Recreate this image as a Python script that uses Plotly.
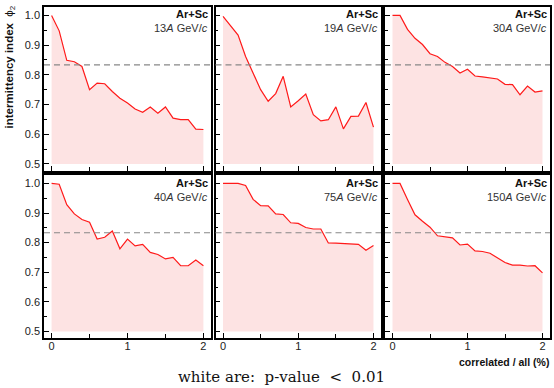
import plotly.graph_objects as go

# ---------------- data ----------------
frac = [0.0, 0.1, 0.2, 0.3, 0.4, 0.5, 0.6, 0.7, 0.8, 0.9, 1.0,
        1.1, 1.2, 1.3, 1.4, 1.5, 1.6, 1.7, 1.8, 1.9, 2.0]

phi_13 = [1.000, 0.948, 0.849, 0.844, 0.828, 0.750, 0.772, 0.770, 0.744, 0.721, 0.705,
          0.685, 0.674, 0.692, 0.671, 0.692, 0.654, 0.649, 0.649, 0.617, 0.616]
phi_19 = [0.997, 0.965, 0.934, 0.862, 0.808, 0.750, 0.711, 0.737, 0.795, 0.692, 0.713,
          0.735, 0.666, 0.645, 0.649, 0.692, 0.618, 0.660, 0.661, 0.707, 0.624]
phi_30 = [1.000, 1.000, 0.953, 0.923, 0.902, 0.871, 0.862, 0.842, 0.828, 0.806, 0.819,
          0.796, 0.793, 0.790, 0.786, 0.768, 0.767, 0.733, 0.762, 0.742, 0.746]
phi_40 = [1.000, 0.997, 0.928, 0.897, 0.878, 0.869, 0.812, 0.818, 0.839, 0.779, 0.812,
          0.789, 0.794, 0.767, 0.760, 0.745, 0.750, 0.722, 0.722, 0.741, 0.722]
phi_75 = [1.000, 1.000, 1.000, 0.993, 0.946, 0.925, 0.924, 0.897, 0.895, 0.867, 0.865,
          0.851, 0.846, 0.846, 0.799, 0.798, 0.797, 0.795, 0.794, 0.774, 0.790]
phi_150 = [1.000, 1.000, 0.946, 0.894, 0.872, 0.852, 0.823, 0.819, 0.816, 0.792, 0.795,
           0.772, 0.770, 0.764, 0.747, 0.733, 0.724, 0.724, 0.721, 0.722, 0.698]

energies = ["13", "19", "30", "40", "75", "150"]
series = [phi_13, phi_19, phi_30, phi_40, phi_75, phi_150]
system = "Ar+Sc"
threshold = 0.8333
fill_base = 0.5

# ---------------- layout geometry ----------------
W, H = 554, 388
col_px = [(44, 211), (215.5, 381), (385, 550)]
row_px = [(6.5, 170.5), (174.5, 338)]

FONT = "Liberation Sans, Arial, sans-serif"
RED = "#ff1a1a"
PINK = "rgb(253,227,227)"

fig = go.Figure()
layout = dict(
    width=W, height=H, margin=dict(l=0, r=0, t=0, b=0),
    paper_bgcolor="white", plot_bgcolor="white", showlegend=False,
    font=dict(family=FONT, size=11, color="#222"),
)
annotations = []
shapes = []

for i, (en, ys) in enumerate(zip(energies, series)):
    r, c = divmod(i, 3)
    n = i + 1
    xa = "x" if n == 1 else f"x{n}"
    ya = "y" if n == 1 else f"y{n}"
    xkey = "xaxis" if n == 1 else f"xaxis{n}"
    ykey = "yaxis" if n == 1 else f"yaxis{n}"
    x0, x1 = col_px[c]
    y0, y1 = row_px[r]
    layout[xkey] = dict(
        domain=[x0 / W, x1 / W], anchor=ya, range=[-0.1, 2.1],
        showline=True, mirror=True, linecolor="black", linewidth=1.5,
        ticks="inside", ticklen=5, tickwidth=1, tickcolor="black",
        tickmode="array", tickvals=[0, 1, 2], ticktext=["0", "1", "2"],
        minor=dict(ticks="inside", ticklen=4, tickvals=[0.5, 1.5], tickcolor="black"),
        showgrid=False, zeroline=False,
        showticklabels=(r == 1), ticklabelstandoff=-3,
        tickfont=dict(family=FONT, size=11, color="#222"),
    )
    layout[ykey] = dict(
        domain=[1 - y1 / H, 1 - y0 / H], anchor=xa, range=[0.478, 1.03],
        showline=True, mirror=True, linecolor="black", linewidth=1.5,
        ticks="inside", ticklen=5, tickwidth=1, tickcolor="black",
        dtick=0.1, tick0=0.5, tickformat=".1f",
        minor=dict(ticks="inside", ticklen=3, dtick=0.05, tickcolor="black"),
        showgrid=False, zeroline=False,
        showticklabels=(c == 0),
        tickfont=dict(family=FONT, size=11, color="#222"),
    )
    # baseline for fill
    fig.add_trace(go.Scatter(x=frac, y=[fill_base] * len(frac), mode="lines",
                             line=dict(width=0, color=PINK), xaxis=xa, yaxis=ya,
                             hoverinfo="skip"))
    fig.add_trace(go.Scatter(x=frac, y=ys, mode="lines", fill="tonexty",
                             fillcolor=PINK, line=dict(color=RED, width=1.2),
                             xaxis=xa, yaxis=ya))
    shapes.append(dict(type="line", xref=f"{xa} domain", yref=ya,
                       x0=0, x1=1, y0=threshold, y1=threshold,
                       line=dict(color="#888888", width=1.2, dash="6px,4px"),
                       layer="above"))
    top_px = y0
    annotations.append(dict(
        text=f"<b>{system}</b>", xref="paper", yref="paper",
        x=(x1 - 1.5) / W, y=1 - (top_px + 8) / H, xanchor="right", yanchor="middle",
        showarrow=False, font=dict(family=FONT, size=11, color="#111")))
    annotations.append(dict(
        text=f"{en}<i>A</i> GeV/<i>c</i>", xref="paper", yref="paper",
        x=(x1 - 1.5) / W, y=1 - (top_px + 22) / H, xanchor="right", yanchor="middle",
        showarrow=False, font=dict(family=FONT, size=11, color="#333")))

annotations.append(dict(
    text="<b>intermittency index</b>  ϕ<sub>2</sub>", xref="paper", yref="paper",
    x=10 / W, y=1 - 4 / H, xanchor="center", yanchor="top", textangle=-90,
    showarrow=False, font=dict(family=FONT, size=11.5, color="#111")))
annotations.append(dict(
    text="<b>correlated / all (%)</b>", xref="paper", yref="paper",
    x=551 / W, y=1 - 362 / H, xanchor="right", yanchor="middle",
    showarrow=False, font=dict(family=FONT, size=10.5, color="#111")))
annotations.append(dict(
    text="white are:  p-value  &lt;  0.01", xref="paper", yref="paper",
    x=281 / W, y=1 - 377 / H, xanchor="center", yanchor="middle",
    showarrow=False, font=dict(family="DejaVu Serif, Liberation Serif, serif", size=15, color="#111")))

layout["annotations"] = annotations
layout["shapes"] = shapes
fig.update_layout(**layout)
fig.write_html("out.html")
